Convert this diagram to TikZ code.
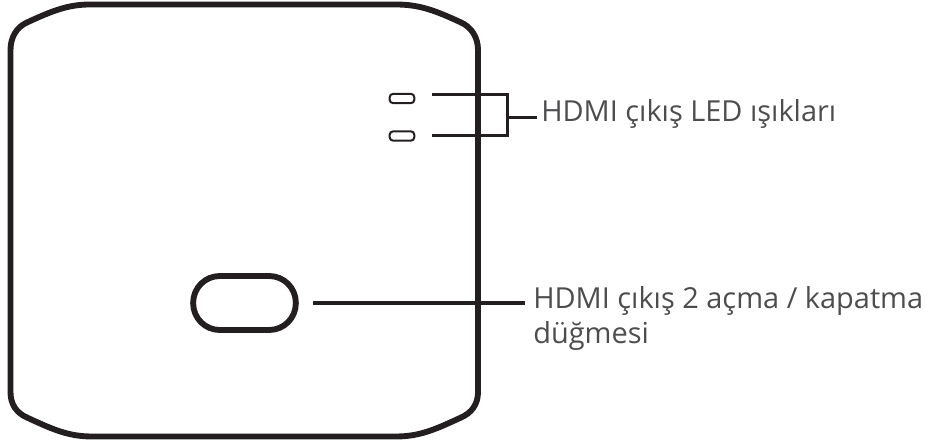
\documentclass[tikz,border=0pt]{standalone}
\usepackage{fontspec}
\setmainfont{Open Sans}
\definecolor{ink}{HTML}{231F20}
\definecolor{txt}{HTML}{4D4D4F}
\tikzset{
 bodyline/.style={draw=ink,line width=4.4pt,line join=round},
 ledpill/.style={draw=ink,line width=1.5pt,rounded corners=2.6pt,minimum width=18.5pt,minimum height=7pt,inner sep=0pt},
 btnpill/.style={draw=ink,line width=4.4pt,rounded corners=20pt,minimum width=77pt,minimum height=40.5pt,inner sep=0pt},
 leader/.style={draw=ink,line width=2.3pt},
 caption/.style={text=txt,font=\fontsize{21.7pt}{26.25pt}\selectfont,inner sep=0pt,anchor=base west,align=left}
}
\begin{document}
\begin{tikzpicture}[x=0.75pt,y=-0.75pt]
\useasboundingbox (0,0) rectangle (938,445);
\draw[bodyline] (90,4.5) -- (396,4.5)
 .. controls (420,4.5) and (436,11) .. (460,22)
 .. controls (472,27) and (478,38) .. (478,50)
 -- (478,392)
 .. controls (478,404) and (472,413) .. (460,418)
 .. controls (436,429) and (420,436.5) .. (396,436.5)
 -- (92,436.5)
 .. controls (68,436.5) and (52,429) .. (28,418)
 .. controls (16,413) and (10.5,404) .. (10.5,392)
 -- (10.5,50)
 .. controls (10.5,38) and (16,27) .. (28,22)
 .. controls (52,11) and (68,4.5) .. (90,4.5) -- cycle;
\node[ledpill] (led1) at (402,98.5) {};
\node[ledpill] (led2) at (402,136) {};
\node[btnpill] (btn) at (244.5,303) {};
\coordinate (l1a) at (432,94.7);
\coordinate (l1b) at (507.7,94.7);
\coordinate (l2a) at (432,135.7);
\coordinate (l2b) at (507.7,135.7);
\coordinate (stem) at (507.7,117.7);
\coordinate (stemEnd) at (537,117.7);
\coordinate (b1) at (313,303);
\coordinate (b2) at (525,303);
\draw[leader,line join=miter] (l1a) -- (l1b) -- (l2b) -- (l2a);
\draw[leader] (stem) -- (stemEnd);
\draw[leader] (b1) -- (b2);
\node[caption] (t1) at (541,122) {HDMI çıkış LED ışıkları};
\node[caption] (t2) at (533,343) {HDMI çıkış 2 açma / kapatma\\düğmesi};
\end{tikzpicture}
\end{document}
